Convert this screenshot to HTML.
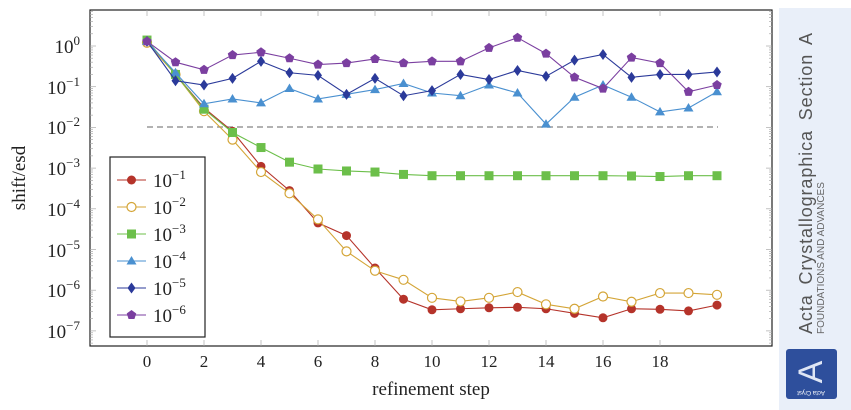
<!DOCTYPE html>
<html><head><meta charset="utf-8"><style>
html,body{margin:0;padding:0;background:#fff;width:851px;height:410px;overflow:hidden}
svg{display:block}
text{font-family:"Liberation Serif",serif}
</style></head><body>
<svg id="s" width="851" height="410" xmlns="http://www.w3.org/2000/svg">
<rect x="779" y="8" width="72" height="402" fill="#e9eff9"/>
<rect x="786" y="349" width="51" height="50" rx="3" fill="#2e4f9c"/>
<text x="0" y="0" font-size="34" fill="#dfe6f5" text-anchor="middle" transform="translate(822,372) rotate(-90)" style="font-family:'Liberation Sans',sans-serif">A</text>
<text x="811" y="395" font-size="6" fill="#fff" text-anchor="middle" transform="rotate(180 811 393)" style="font-family:'Liberation Sans',sans-serif">Acta Cryst</text>
<g transform="translate(812,334) rotate(-90)">
<text x="0" y="0" font-size="18" fill="#555" style="font-family:'Liberation Sans',sans-serif;letter-spacing:0.9px;word-spacing:4px">Acta Crystallographica Section A</text>
<text x="0" y="12" font-size="10" fill="#666" style="font-family:'Liberation Sans',sans-serif">FOUNDATIONS AND ADVANCES</text>
</g>
<rect x="90" y="10" width="682" height="336" fill="none" stroke="#222" stroke-width="1.2"/>
<g id="ticks" stroke="#aaa" stroke-width="0.7"></g>
<line x1="147" y1="127" x2="718" y2="127" stroke="#999" stroke-width="1.6" stroke-dasharray="6,4"/>
<g id="series"></g>
<g font-size="19" fill="#222" text-anchor="end">
<text x="80" y="53">10<tspan font-size="13" dy="-8">0</tspan></text>
<text x="80" y="94">10<tspan font-size="13" dy="-8">−1</tspan></text>
<text x="80" y="134">10<tspan font-size="13" dy="-8">−2</tspan></text>
<text x="80" y="175">10<tspan font-size="13" dy="-8">−3</tspan></text>
<text x="80" y="216">10<tspan font-size="13" dy="-8">−4</tspan></text>
<text x="80" y="257">10<tspan font-size="13" dy="-8">−5</tspan></text>
<text x="80" y="297">10<tspan font-size="13" dy="-8">−6</tspan></text>
<text x="80" y="338">10<tspan font-size="13" dy="-8">−7</tspan></text>
</g>
<g font-size="17" fill="#222" text-anchor="middle">
<text x="147" y="367">0</text><text x="204" y="367">2</text><text x="261" y="367">4</text><text x="318" y="367">6</text><text x="375" y="367">8</text><text x="432" y="367">10</text><text x="489" y="367">12</text><text x="546" y="367">14</text><text x="603" y="367">16</text><text x="660" y="367">18</text>
<text x="431" y="395" font-size="19">refinement step</text>
</g>
<text x="0" y="0" font-size="19" fill="#222" text-anchor="middle" transform="translate(25,178) rotate(-90)">shift/esd</text>
<rect x="110" y="157" width="95" height="180" fill="#fff" stroke="#222" stroke-width="1.2"/>
<g id="leg"></g>
<g font-size="19" fill="#222">
<text x="153" y="187">10<tspan font-size="13" dy="-8">−1</tspan></text>
<text x="153" y="214">10<tspan font-size="13" dy="-8">−2</tspan></text>
<text x="153" y="241">10<tspan font-size="13" dy="-8">−3</tspan></text>
<text x="153" y="268">10<tspan font-size="13" dy="-8">−4</tspan></text>
<text x="153" y="295">10<tspan font-size="13" dy="-8">−5</tspan></text>
<text x="153" y="322">10<tspan font-size="13" dy="-8">−6</tspan></text>
</g>
</svg>
<script>
var NS="http://www.w3.org/2000/svg";
function X(i){return 147+i*28.5}
function Y(v){return 46-Math.log10(v)*40.7}
function el(p,t,a){var e=document.createElementNS(NS,t);for(var k in a)e.setAttribute(k,a[k]);p.appendChild(e);return e}
var tk=document.getElementById('ticks');
for(var i=0;i<=18;i+=2){el(tk,'line',{x1:X(i),y1:346,x2:X(i),y2:340});el(tk,'line',{x1:X(i),y1:10,x2:X(i),y2:16});}
for(var d=1;d>=-8;d--){for(var m=1;m<10;m++){var y=Y(m*Math.pow(10,d));if(y<10||y>346)continue;var L=m==1?6:3;el(tk,'line',{x1:90,y1:y,x2:90+L,y2:y});el(tk,'line',{x1:772,y1:y,x2:772-L,y2:y});}}
var S=[
["#b5332a","circle",[1.3,0.2,0.03,0.008,1.1e-3,2.8e-4,4.5e-5,2.2e-5,3.5e-6,6e-7,3.3e-7,3.5e-7,3.7e-7,3.8e-7,3.5e-7,2.7e-7,2.1e-7,3.5e-7,3.4e-7,3.1e-7,4.3e-7]],
["#d4a537","ocircle",[1.2,0.2,0.025,0.005,8e-4,2.4e-4,5.5e-5,9e-6,3e-6,1.8e-6,6.5e-7,5.3e-7,6.5e-7,9e-7,4.5e-7,3.5e-7,7e-7,5.2e-7,8.5e-7,8.5e-7,7.7e-7]],
["#6cbf4a","square",[1.4,0.2,0.028,0.0075,3.2e-3,1.4e-3,9.5e-4,8.5e-4,8e-4,7e-4,6.5e-4,6.5e-4,6.5e-4,6.5e-4,6.5e-4,6.5e-4,6.5e-4,6.4e-4,6.2e-4,6.5e-4,6.5e-4]],
["#4a90d0","tri",[1.3,0.22,0.038,0.05,0.04,0.09,0.05,0.065,0.085,0.12,0.07,0.06,0.11,0.07,0.012,0.055,0.11,0.055,0.024,0.03,0.075]],
["#2b3a9a","diam",[1.3,0.14,0.11,0.16,0.42,0.22,0.19,0.065,0.16,0.06,0.08,0.2,0.15,0.25,0.18,0.45,0.62,0.17,0.2,0.2,0.23]],
["#7b3fa0","pent",[1.3,0.4,0.26,0.6,0.7,0.5,0.35,0.38,0.48,0.38,0.42,0.42,0.9,1.6,0.65,0.17,0.09,0.52,0.38,0.075,0.11]]];
function mark(g,t,c,x,y){
 if(t=='circle')el(g,'circle',{cx:x,cy:y,r:4.5,fill:c});
 else if(t=='ocircle')el(g,'circle',{cx:x,cy:y,r:4.5,fill:'#fff',stroke:c,'stroke-width':1.2});
 else if(t=='square')el(g,'rect',{x:x-4.5,y:y-4.5,width:9,height:9,fill:c});
 else if(t=='tri')el(g,'polygon',{points:(x)+','+(y-5)+' '+(x-5)+','+(y+3.5)+' '+(x+5)+','+(y+3.5),fill:c});
 else if(t=='diam')el(g,'polygon',{points:x+','+(y-5.5)+' '+(x+4)+','+y+' '+x+','+(y+5.5)+' '+(x-4)+','+y,fill:c});
 else{var p=[];for(var k=0;k<5;k++){var a=-Math.PI/2+k*2*Math.PI/5;p.push((x+5*Math.cos(a))+','+(y+5*Math.sin(a)));}el(g,'polygon',{points:p.join(' '),fill:c});}
}
var sg=document.getElementById('series'),lg=document.getElementById('leg');
S.forEach(function(s,j){
 var pts=s[2].map(function(v,i){return X(i)+','+Y(v)}).join(' ');
 el(sg,'polyline',{points:pts,fill:'none',stroke:s[0],'stroke-width':1.1});
 s[2].forEach(function(v,i){mark(sg,s[1],s[0],X(i),Y(v))});
 var ly=180+j*27;
 el(lg,'line',{x1:117,y1:ly,x2:146,y2:ly,stroke:s[0],'stroke-width':1.1});
 mark(lg,s[1],s[0],131.5,ly);
});
</script>
</body></html>
